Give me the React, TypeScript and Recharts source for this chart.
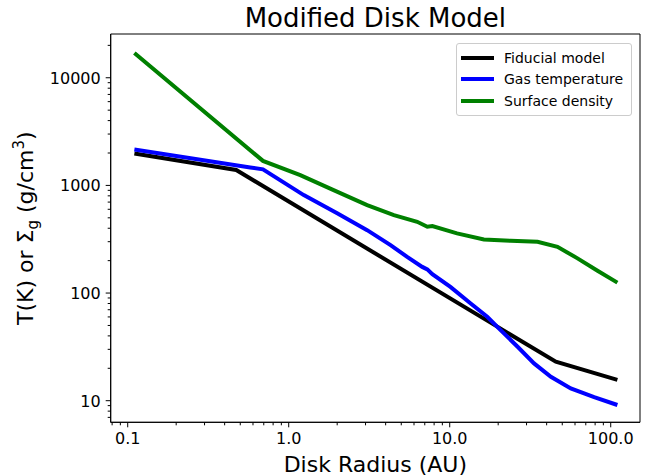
import { LineChart, Line, XAxis, YAxis, Legend, Label, ReferenceArea } from "recharts";

// radius (AU) and values
const fiducialR = [0.11, 0.472, 45.6, 110];
const fiducialT = [1980, 1390, 23, 15.6];

const gasR = [0.11, 0.577, 0.692, 1.24, 2.0, 3.07, 4.29, 5.44, 6.75, 7.26, 7.8, 10.1, 13.5, 17.1, 20.7, 26.4, 33.4, 42.5, 56.5, 78.9, 110];
const gasT = [2160, 1469, 1409, 813, 550, 384, 279, 217, 175, 166, 150, 114, 80, 60.2, 45.3, 31.7, 22.2, 16.7, 13.0, 10.8, 9.12];

const surfR = [0.11, 0.692, 1.18, 1.9, 3.07, 4.5, 6.28, 7.26, 7.8, 11.1, 16.3, 23.9, 35.1, 46.7, 62.2, 82.8, 110];
const surfSigma = [17000, 1690, 1247, 904, 656, 530, 459, 413, 419, 358, 315, 306, 299, 269, 210, 161, 125];

const xTicks = [0.08, 0.09, 0.1, 0.2, 0.3, 0.4, 0.5, 0.6, 0.7, 0.8, 0.9, 1, 2, 3, 4, 5, 6, 7, 8, 9, 10, 20, 30, 40, 50, 60, 70, 80, 90, 100];
const yTicks = [7, 8, 9, 10, 20, 30, 40, 50, 60, 70, 80, 90, 100, 200, 300, 400, 500, 600, 700, 800, 900, 1000, 2000, 3000, 4000, 5000, 6000, 7000, 8000, 9000, 10000, 20000];

const xDomain = [0.0784, 152];
const yDomain = [6.3, 25500];

const FONT = "DejaVu Sans, sans-serif";

const toPoints = (r: number[], v: number[]) => r.map((x, i) => ({ r: x, v: v[i] }));

const isMajor = (v: number) => Math.abs(Math.log10(v) - Math.round(Math.log10(v))) < 1e-6;

const XTick = (props: any) => {
  const { x, y, payload } = props;
  const v = payload.value;
  const major = isMajor(v);
  return (
    <g>
      <line x1={x} x2={x} y1={y} y2={y + (major ? 5 : 3)} stroke="#000" strokeWidth={1} />
      {major && (
        <text x={x} y={y + 22} textAnchor="middle" fontSize={16} fontFamily={FONT} fill="#000">
          {v.toFixed(1)}
        </text>
      )}
    </g>
  );
};

const YTick = (props: any) => {
  const { x, y, payload } = props;
  const v = payload.value;
  const major = isMajor(v);
  return (
    <g>
      <line x1={x} x2={x - (major ? 5 : 3)} y1={y} y2={y} stroke="#000" strokeWidth={1} />
      {major && (
        <text x={x - 10} y={y + 6} textAnchor="end" fontSize={16} fontFamily={FONT} fill="#000">
          {String(v)}
        </text>
      )}
    </g>
  );
};

const LegendBox = (props: any) => {
  const { payload } = props;
  return (
    <div
      style={{
        border: "1px solid #cccccc",
        borderRadius: 3,
        background: "rgba(255,255,255,0.8)",
        padding: "3px 6px 3px 4px",
        fontFamily: FONT,
        fontSize: 14,
        boxSizing: "border-box",
        width: 176,
      }}
    >
      {(payload || []).map((p: any) => (
        <div key={p.value} style={{ display: "flex", alignItems: "center", height: 21.5 }}>
          <div style={{ width: 33, height: 4, background: p.color, marginRight: 10 }} />
          <span style={{ color: "#000", whiteSpace: "nowrap" }}>{p.value}</span>
        </div>
      ))}
    </div>
  );
};

export default function App() {
  return (
    <div style={{ position: "absolute", left: 0, top: 0, background: "#fff" }}>
      <LineChart width={647} height={476} margin={{ top: 34, right: 7, left: 0, bottom: 0 }}>
        <XAxis
          dataKey="r"
          type="number"
          scale="log"
          domain={xDomain}
          allowDataOverflow
          ticks={xTicks}
          interval={0}
          tick={<XTick />}
          tickLine={false}
          tickSize={0}
          tickMargin={0}
          height={53.7}
          axisLine={{ stroke: "#000", strokeWidth: 1 }}
        >
          <Label
            content={(p: any) => {
              const vb = p.viewBox;
              return (
                <text x={vb.x + vb.width / 2} y={471.5} textAnchor="middle" fontSize={22} fontFamily={FONT} fill="#000">
                  Disk Radius (AU)
                </text>
              );
            }}
          />
        </XAxis>
        <YAxis
          type="number"
          scale="log"
          domain={yDomain}
          allowDataOverflow
          ticks={yTicks}
          interval={0}
          tick={<YTick />}
          tickLine={false}
          tickSize={0}
          tickMargin={0}
          width={110.7}
          axisLine={{ stroke: "#000", strokeWidth: 1 }}
        >
          <Label
            content={(p: any) => {
              const vb = p.viewBox;
              const cy = vb.y + vb.height / 2;
              return (
                <text
                  transform={`translate(33, ${cy}) rotate(-90)`}
                  textAnchor="middle"
                  fontSize={22}
                  fontFamily={FONT}
                  fill="#000"
                >
                  T(K) or Σ<tspan dy={5} fontSize={15}>g</tspan>
                  <tspan dy={-5}> (g/cm</tspan>
                  <tspan dy={-9} fontSize={15}>3</tspan>
                  <tspan dy={9}>)</tspan>
                </text>
              );
            }}
          />
        </YAxis>
        <Line
          data={toPoints(fiducialR, fiducialT)}
          dataKey="v"
          name="Fiducial model"
          type="linear"
          stroke="#000000"
          strokeWidth={4}
          dot={false}
          activeDot={false}
          isAnimationActive={false}
        />
        <Line
          data={toPoints(gasR, gasT)}
          dataKey="v"
          name="Gas temperature"
          type="linear"
          stroke="#0000ff"
          strokeWidth={4}
          dot={false}
          activeDot={false}
          isAnimationActive={false}
        />
        <Line
          data={toPoints(surfR, surfSigma)}
          dataKey="v"
          name="Surface density"
          type="linear"
          stroke="#008000"
          strokeWidth={4}
          dot={false}
          activeDot={false}
          isAnimationActive={false}
        />
        {/* axes frame + title */}
        <ReferenceArea
          x1={xDomain[0]}
          x2={xDomain[1]}
          y1={yDomain[0]}
          y2={yDomain[1]}
          ifOverflow="visible"
          fill="none"
          fillOpacity={0}
          stroke="#000"
          strokeWidth={1}
          label={(p: any) => {
            const vb = p.viewBox;
            return (
              <text x={vb.x + vb.width / 2} y={vb.y - 7} textAnchor="middle" fontSize={26} fontFamily={FONT} fill="#000">
                Modified Disk Model
              </text>
            );
          }}
        />
        <Legend
          layout="vertical"
          align="center"
          verticalAlign="middle"
          wrapperStyle={{ position: "absolute", left: 456, top: 43, width: 176 }}
          content={<LegendBox />}
        />
      </LineChart>
    </div>
  );
}
